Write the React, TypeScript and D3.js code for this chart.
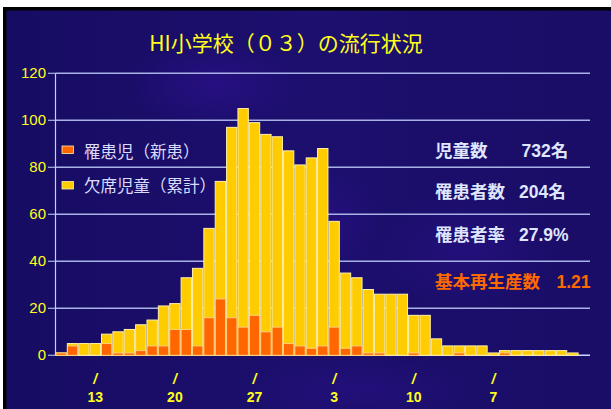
import React from 'react';
import * as d3 from 'd3';

// daily counts (one bar per day)
const absentTotal = [1, 5, 5, 5, 9, 10, 11, 13, 15, 21, 22, 33, 37, 54, 74, 97, 105, 99, 94, 93, 87, 81, 84, 88, 57, 35, 33, 28, 26, 26, 26, 17, 17, 7, 4, 4, 4, 4, 1, 2, 2, 2, 2, 2, 2, 1];
const newCases = [1, 4, 0, 0, 5, 1, 1, 2, 4, 4, 11, 11, 4, 16, 24, 16, 12, 17, 10, 12, 5, 4, 3, 4, 12, 3, 4, 1, 1, 0, 0, 1, 0, 0, 0, 1, 0, 0, 0, 1, 0, 0, 0, 0, 0, 0];
const slotCount = 47; // the axis leaves one empty day at the right end
const yTicks = [0, 20, 40, 60, 80, 100, 120];
const dateTickIndex = [3, 10, 17, 24, 31, 38];
const dateTickLabel = ['13', '20', '27', '3', '10', '7'];
const legendLabels = ['罹患児（新患）', '欠席児童（累計）'];
const statLabels = ['児童数', '罹患者数', '罹患者率', '基本再生産数'];
const statValues = ['732名', '204名', '27.9%', '1.21'];

const W = 611;
const H = 409;
const plot = { left: 55.5, right: 590, top: 73.3, bottom: 355.3 };

const YELLOW = '#ffcc00';
const ORANGE = '#ff6600';
const BAR_EDGE = '#fff1a8';
const LABEL_YELLOW = '#ffff1a';
const GRID = '#a9b2e6';
const CJK = '"Noto Sans CJK JP", "Noto Sans", sans-serif';
const SANS = '"Liberation Sans", Arial, sans-serif';

export default function App() {
  const x = d3
    .scaleBand<number>()
    .domain(d3.range(slotCount))
    .range([plot.left, plot.right])
    .padding(0);

  const y = d3.scaleLinear().domain([0, 120]).range([plot.bottom, plot.top]);

  const statX = [521.5, 519, 519, 556.5];
  const statY = [157, 197.5, 240.5, 287.5];

  return (
    <>
      <style>{`body{margin:0;background:#fff}`}</style>
      <svg width={W} height={H} style={{ display: 'block' }}>
        <defs>
          <radialGradient id="glow" cx="50%" cy="50%" r="50%">
            <stop offset="0%" stopColor="#3a12a4" stopOpacity={0.4} />
            <stop offset="100%" stopColor="#3a12a4" stopOpacity={0} />
          </radialGradient>
          <linearGradient id="bg" x1="0" y1="0" x2="1" y2="0">
            <stop offset="0%" stopColor="#170c63" />
            <stop offset="50%" stopColor="#1c0f6e" />
            <stop offset="100%" stopColor="#190d66" />
          </linearGradient>
        </defs>

        <rect x={3} y={7} width={W} height={H} fill="#000" />
        <rect x={6.5} y={10.5} width={W} height={H} fill="url(#bg)" />
        <ellipse cx={215} cy={85} rx={90} ry={45} fill="url(#glow)" />
        <ellipse cx={300} cy={220} rx={80} ry={60} fill="url(#glow)" />
        <ellipse cx={470} cy={250} rx={90} ry={60} fill="url(#glow)" opacity={0.7} />
        <ellipse cx={360} cy={390} rx={120} ry={30} fill="url(#glow)" opacity={0.6} />

        {/* title */}
        <text x={286} y={51} textAnchor="middle" fill={LABEL_YELLOW} fontFamily={CJK} fontSize={21}>
          HI小学校（０３）の流行状況
        </text>

        {/* gridlines */}
        {yTicks.map(t => (
          <g key={t}>
            <line x1={plot.left} x2={plot.right} y1={y(t)} y2={y(t)} stroke={t === 0 ? '#c9d6ff' : GRID} strokeWidth={1.5} />
            <line x1={48} x2={plot.left} y1={y(t)} y2={y(t)} stroke={GRID} strokeWidth={1.2} />
            <text x={46} y={y(t) + 5} textAnchor="end" fill={LABEL_YELLOW} fontFamily={SANS} fontSize={15}>
              {t}
            </text>
          </g>
        ))}
        <line x1={plot.left} x2={plot.left} y1={plot.top} y2={plot.bottom} stroke="#c9ccf2" strokeWidth={1.2} />

        {/* absentees (cumulative) */}
        {absentTotal.map((v, i) => (
          <rect
            key={'a' + i}
            x={x(i)! + 0.5}
            y={y(v)}
            width={x.bandwidth() - 1}
            height={plot.bottom - y(v)}
            fill={YELLOW}
            stroke={BAR_EDGE}
            strokeWidth={1}
          />
        ))}
        {/* new patients */}
        {newCases.map((v, i) =>
          v > 0 ? (
            <rect
              key={'n' + i}
              x={x(i)! + 0.5}
              y={y(v)}
              width={x.bandwidth() - 1}
              height={plot.bottom - y(v)}
              fill={ORANGE}
              stroke="#ffd27a"
              strokeWidth={1}
            />
          ) : null
        )}

        {/* date labels */}
        {dateTickIndex.map((idx, k) => {
          const cx = x(idx)! + x.bandwidth() / 2;
          return (
            <g key={idx} fill={LABEL_YELLOW} fontFamily={SANS} fontWeight="bold" fontSize={14} textAnchor="middle">
              <text x={cx} y={384} fontStyle="italic">/</text>
              <text x={cx} y={402}>{dateTickLabel[k]}</text>
            </g>
          );
        })}

        {/* legend */}
        {legendLabels.map((lab, i) => (
          <g key={lab}>
            <rect x={62} y={146 + i * 35.5} width={11.5} height={7.5} fill={i === 0 ? ORANGE : YELLOW} stroke={BAR_EDGE} strokeWidth={0.8} />
            <text x={84} y={158 + i * 34} fill="#dadcff" fontFamily={CJK} fontSize={16.5}>
              {lab}
            </text>
          </g>
        ))}

        {/* summary figures */}
        {statLabels.map((lab, i) => {
          const c = i === 3 ? '#ff6a00' : '#dfe6ff';
          return (
            <g key={lab} fill={c} fontWeight="bold" fontSize={17.5}>
              <text x={435} y={statY[i]} fontFamily={CJK}>{lab}</text>
              <text x={statX[i]} y={statY[i]} fontFamily={SANS}>
                {statValues[i].replace('名', '')}
                {statValues[i].endsWith('名') ? <tspan fontFamily={CJK}>名</tspan> : null}
              </text>
            </g>
          );
        })}
      </svg>
    </>
  );
}
